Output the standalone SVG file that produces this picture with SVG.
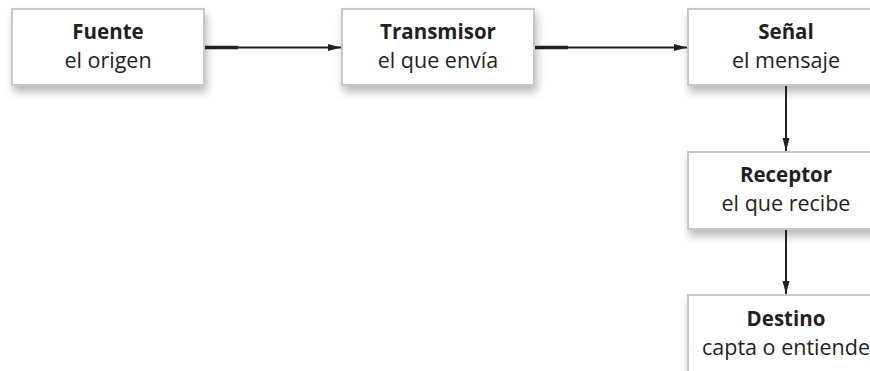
<svg xmlns="http://www.w3.org/2000/svg" width="870" height="371" viewBox="0 0 870 371">
<defs>
<filter id="sh" x="-10%" y="-20%" width="130%" height="160%">
<feDropShadow dx="2" dy="6" stdDeviation="4" flood-color="#000" flood-opacity="0.28"/>
</filter>
<marker id="ah" viewBox="0 0 13 8" refX="13" refY="4" markerWidth="13" markerHeight="8" markerUnits="userSpaceOnUse" orient="auto">
<path d="M0,0.5 L13,4 L0,7.5 z" fill="#231f20"/>
</marker>
</defs>
<style>
.box{fill:#fff;stroke:#c8c8c8;stroke-width:2;filter:url(#sh)}
.t{font-family:"Open Sans","Liberation Sans",sans-serif;font-size:21.5px;fill:#231f20;text-anchor:middle}
.b{font-weight:bold;font-size:20.5px}
.c{stroke:#231f20;stroke-width:2;fill:none}
.s{stroke:#231f20;stroke-width:3.5;fill:none}
</style>
<g id="fuente">
<rect class="box" x="12" y="9" width="192" height="76"/>
<text class="t b" x="108" y="39">Fuente</text>
<text class="t" x="108" y="68">el origen</text>
</g>
<g id="transmisor">
<rect class="box" x="342" y="9" width="192" height="76"/>
<text class="t b" x="438" y="39">Transmisor</text>
<text class="t" x="438" y="68">el que envía</text>
</g>
<g id="senal">
<rect class="box" x="688" y="9" width="192" height="76"/>
<text class="t b" x="786" y="39">Señal</text>
<text class="t" x="786" y="68">el mensaje</text>
</g>
<g id="receptor">
<rect class="box" x="688" y="152" width="192" height="77"/>
<text class="t b" x="786" y="182">Receptor</text>
<text class="t" x="786" y="211">el que recibe</text>
</g>
<g id="destino">
<rect class="box" x="688" y="295" width="192" height="90"/>
<text class="t b" x="786" y="326">Destino</text>
<text class="t" x="786" y="355">capta o entiende</text>
</g>
<g id="connectors">
<line class="s" x1="205" y1="47.5" x2="238" y2="47.5"/>
<line class="c" x1="205" y1="47.5" x2="341" y2="47.5" marker-end="url(#ah)"/>
<line class="s" x1="535" y1="47.5" x2="568" y2="47.5"/>
<line class="c" x1="535" y1="47.5" x2="687" y2="47.5" marker-end="url(#ah)"/>
<line class="c" x1="786" y1="86" x2="786" y2="151" marker-end="url(#ah)"/>
<line class="c" x1="786" y1="230" x2="786" y2="294" marker-end="url(#ah)"/>
</g>
</svg>
